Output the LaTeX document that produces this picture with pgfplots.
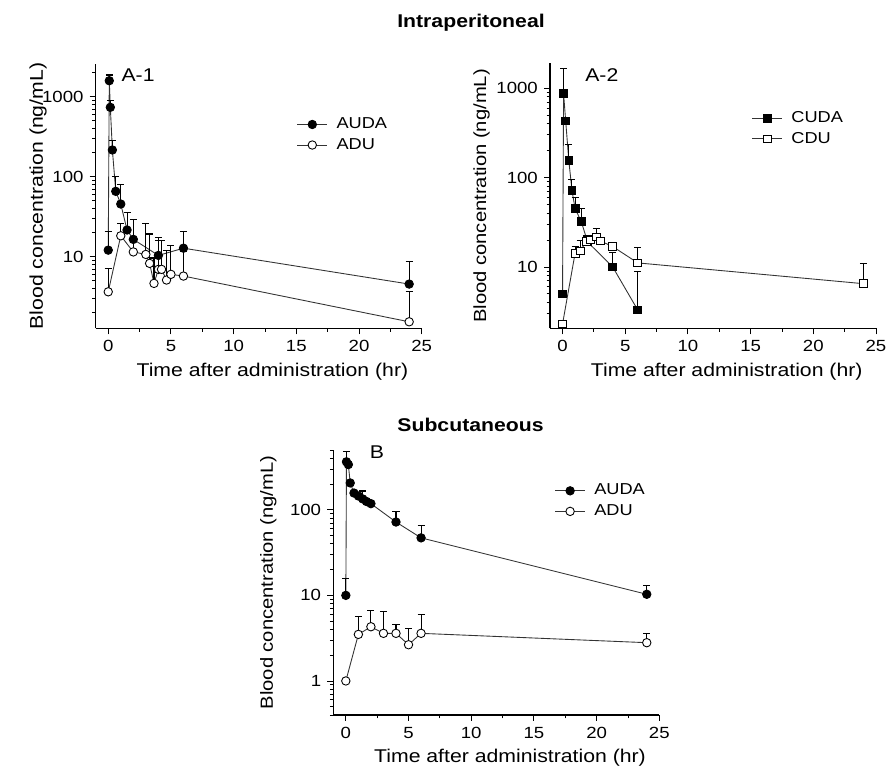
\documentclass[border=0pt]{standalone}
\usepackage{fontspec}
\setmainfont{Liberation Sans}[FakeStretch=1.15]
\usepackage{pgfplots}
\pgfplotsset{compat=1.18}
\pgfkeys{/pgf/number format/assume math mode=true}

\pgfplotsset{
  every axis/.append style={
    scale only axis, width=6.52cm, height=5.3cm,
    xmin=-1, xmax=25, xtick={0,5,...,25}, minor x tick num=1,
    axis lines*=left, axis line style={line width=0.6pt, -},
    tick align=outside, tick style={black, line width=0.5pt},
    major tick length=0.12cm, minor tick length=0.07cm,
    tick label style={font=\fontsize{9.2}{11}\selectfont},
    label style={font=\fontsize{10.5}{12}\selectfont},
    xlabel={Time after administration (hr)},
    ylabel={Blood concentration (ng/mL)},
    legend style={draw=none, fill=none, inner sep=0pt, anchor=north west,
      font=\fontsize{9}{11}\selectfont, cells={anchor=west}},
    clip=false,
  },
  every axis x label/.style={at={(axis description cs:0.542,0)}, yshift=-0.86cm, anchor=center},
  every axis y label/.style={at={(axis description cs:0,0.5)}, xshift=-1.15cm, rotate=90, anchor=center},
  ser/.style={black!80, line width=0.5pt,
    error bars/y dir=plus, error bars/y explicit,
    error bars/error bar style={line width=0.6pt, black},
    error bars/error mark options={rotate=90, mark size=2pt, line width=0.6pt, black}},
  fillc/.style={mark=*, mark size=2.4pt, mark options={fill=black, draw=black}},
  openc/.style={mark=*, mark size=2.4pt, mark options={fill=white, draw=black}},
  fills/.style={mark=square*, mark size=2.2pt, mark options={fill=black, draw=black}},
  opens/.style={mark=square*, mark size=2.2pt, mark options={fill=white, draw=black}},
}

\begin{document}
\begin{tikzpicture}
\path[use as bounding box] (0,0) rectangle (17.8cm,15.44cm);

\node[font=\bfseries\fontsize{10.5}{12}\selectfont] at (9.42cm,14.98cm) {Intraperitoneal};
\node[font=\bfseries\fontsize{10.5}{12}\selectfont] at (9.41cm,6.94cm) {Subcutaneous};

% A-1
\begin{axis}[at={(1.914cm,8.87cm)}, anchor=south west,
  ymode=log, ymin=1.27, ymax=2600,
  ytick={10,100,1000}, yticklabels={10,100,1000},
  minor ytick={2,3,...,9,20,30,...,90,200,300,...,900,2000},
  legend style={at={(axis description cs:0.616,0.81)}}]
\addplot+[ser, fillc] coordinates {
  (0,12.1) +- (0,8.4)
  (0.083,1585) +- (0,283)
  (0.167,737) +- (0,154)
  (0.33,216) +- (0,71)
  (0.6,65.7) +- (0,34)
  (1,45.6) +- (0,35)
  (1.5,21.6) +- (0,14.3)
  (2,16.5) +- (0,13.1)
  (4,10.4) +- (0,7.1)
  (6,12.8) +- (0,7.7)
  (24,4.56) +- (0,4.2)
};
\addlegendentry{\hspace{3pt}AUDA}
\addplot+[ser, openc] coordinates {
  (0,3.65) +- (0,3.5)
  (1,18.3) +- (0,8)
  (2,11.5) +- (0,5)
  (3,10.7) +- (0,15.5)
  (3.3,8.27) +- (0,11)
  (3.65,4.65) +- (0,5)
  (4,6.96) +- (0,8.9)
  (4.25,6.96) +- (0,8.9)
  (4.65,5.12) +- (0,6.8)
  (5,6.03) +- (0,7.9)
  (6,5.74) +- (0,6)
  (24,1.54) +- (0,2.1)
};
\addlegendentry{\hspace{3pt}ADU}
\node[font=\fontsize{10.5}{12}\selectfont] at (axis description cs:0.13,0.956) {A-1};
\end{axis}

% A-2
\begin{axis}[at={(11.0cm,8.87cm)}, anchor=south west,
  ymode=log, ymin=2.05, ymax=1885,
  ytick={10,100,1000}, yticklabels={10,100,1000},
  minor ytick={3,4,...,9,20,30,...,90,200,300,...,900},
  every axis y label/.style={at={(axis description cs:0,0.5)}, xshift=-1.37cm, rotate=90, anchor=center},
  legend style={at={(axis description cs:0.618,0.834)}}]
\addplot+[ser, fills] coordinates {
  (0,5) +- (0,0)
  (0.083,870) +- (0,800)
  (0.25,430) +- (0,0)
  (0.5,155) +- (0,80)
  (0.75,72) +- (0,22)
  (1,45) +- (0,15)
  (1.5,32) +- (0,13)
  (2,19) +- (0,0)
  (4,10) +- (0,4.5)
  (6,3.3) +- (0,5.6)
};
\addlegendentry{\hspace{3pt}CUDA}
\addplot+[ser, opens] coordinates {
  (0,2.3) +- (0,0)
  (1,14.2) +- (0,2.7)
  (1.4,15.1) +- (0,4.5)
  (1.9,19.2) +- (0,3)
  (2.2,20) +- (0,2.3)
  (2.7,21.7) +- (0,5.2)
  (3,19.6) +- (0,0)
  (4,16.9) +- (0,0)
  (6,11.1) +- (0,5.3)
  (24,6.5) +- (0,4.5)
};
\addlegendentry{\hspace{3pt}CDU}
\node[font=\fontsize{10.5}{12}\selectfont] at (axis description cs:0.159,0.956) {A-2};
\end{axis}

% B
\begin{axis}[at={(6.666cm,1.14cm)}, anchor=south west,
  ymode=log, ymin=0.4, ymax=500, ytick={1,10,100}, yticklabels={1,10,100},
  minor ytick={0.4,0.5,0.6,0.7,0.8,0.9,2,3,...,9,20,30,...,90,200,300,400,500},
  every axis y label/.style={at={(axis description cs:0,0.5)}, xshift=-1.3cm, rotate=90, anchor=center},
  legend style={at={(axis description cs:0.678,0.886)}}]
\addplot+[ser, fillc] coordinates {
  (0,10) +- (0,5.7)
  (0.05,364) +- (0,114)
  (0.2,338) +- (0,0)
  (0.35,206) +- (0,0)
  (0.65,157) +- (0,0)
  (1,145) +- (0,0)
  (1.35,134) +- (0,32)
  (1.65,125) +- (0,0)
  (2,118) +- (0,0)
  (4,72) +- (0,23.5)
  (6,47) +- (0,18)
  (24,10.3) +- (0,2.9)
};
\addlegendentry{\hspace{3pt}AUDA}
\addplot+[ser, openc] coordinates {
  (0,1) +- (0,0)
  (1,3.5) +- (0,2.1)
  (2,4.3) +- (0,2.4)
  (3,3.6) +- (0,2.8)
  (4,3.6) +- (0,1.0)
  (5,2.65) +- (0,1.4)
  (6,3.6) +- (0,2.4)
  (24,2.8) +- (0,0.8)
};
\addlegendentry{\hspace{3pt}ADU}
\node[font=\fontsize{10.5}{12}\selectfont] at (axis description cs:0.134,0.99) {B};
\end{axis}
\end{tikzpicture}
\end{document}
